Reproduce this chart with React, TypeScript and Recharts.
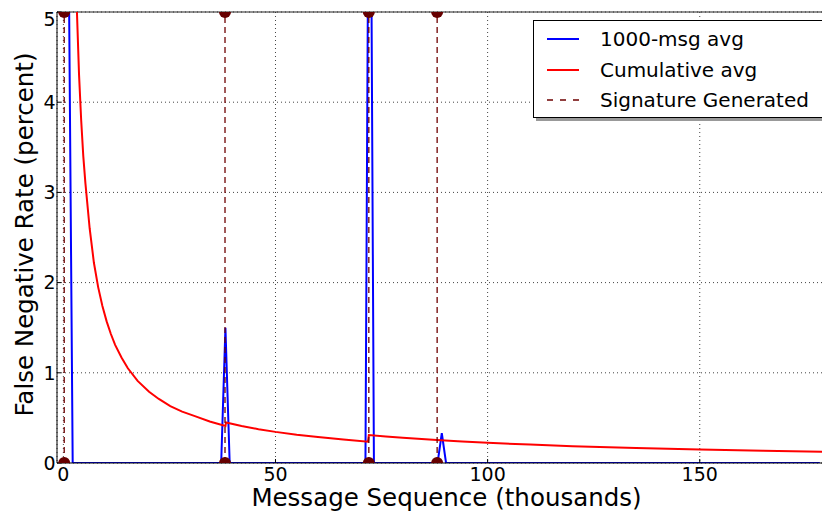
import { LineChart, Line, XAxis, YAxis, CartesianGrid, ReferenceLine } from 'recharts';

// 1000-msg window average (percent), x in thousands of messages
const blueX = [0.2, 1.2, 2.2, 37.2, 38.2, 39.2, 71.2, 72.2, 73.2, 88.2, 89.2, 90.2, 178.3];
const blueY = [14, 6, 0, 0, 1.5, 0, 0, 9, 0, 0, 0.33, 0, 0];

// cumulative average (percent)
const redX = [
  1.2, 2.2, 2.7, 3.2, 3.7, 4.2, 4.7, 5.2, 6.2, 7.2, 8.2, 9.2, 10.2, 11.2, 12.2, 13.7, 15.2, 17.5, 20.2, 22.5, 25.2,
  28, 31, 34.5, 38.2, 38.35, 42, 46, 50, 55, 60, 66, 71.8, 72.0, 76, 80, 88, 94, 100, 110, 120, 135, 150, 165, 179.3,
];
const redY = [
  13.3, 7.3, 5.9, 5.0, 4.3, 3.8, 3.4, 3.1, 2.6, 2.22, 1.95, 1.74, 1.57, 1.43, 1.31, 1.17, 1.05, 0.91, 0.79, 0.71, 0.63,
  0.57, 0.52, 0.46, 0.41, 0.45, 0.41, 0.375, 0.345, 0.313, 0.287, 0.26, 0.236, 0.31, 0.294, 0.279, 0.254, 0.238, 0.224,
  0.204, 0.187, 0.166, 0.15, 0.137, 0.125,
];

// points where a signature was generated
const sigX = [0.2, 38.1, 72.0, 88.1];

const xTicks = [0, 50, 100, 150];
const yTicks = [0, 1, 2, 3, 4, 5];

const legendItems = [
  { label: '1000-msg avg', color: '#0000ff', dash: undefined },
  { label: 'Cumulative avg', color: '#ff0000', dash: undefined },
  { label: 'Signature Generated', color: '#6e0000', dash: '6 7' },
];

const blueData = blueX.map((x, i) => ({ x, v: blueY[i] }));
const redData = redX.map((x, i) => ({ x, v: redY[i] }));
const sigData = sigX.flatMap((x) => [
  { x, v: 0 },
  { x, v: 5 },
  { x, v: null },
]);

function LegendBox() {
  return (
    <div
      style={{
        position: 'absolute',
        left: 525,
        top: 12,
        width: 290,
        height: 96,
        border: '1px solid #000',
        background: '#fff',
        boxShadow: '3px 3px 0 #999',
        fontSize: 20,
        color: '#000',
      }}
    >
      {legendItems.map((it, i) => (
        <div key={it.label} style={{ position: 'absolute', left: 13, top: 5 + i * 30.5, height: 26, display: 'flex', alignItems: 'center', whiteSpace: 'nowrap' }}>
          <svg width={32} height={4} style={{ marginRight: 21 }}>
            <line x1={0} y1={2} x2={32} y2={2} stroke={it.color} strokeWidth={it.dash ? 1.3 : 2} strokeDasharray={it.dash} />
          </svg>
          <span>{it.label}</span>
        </div>
      ))}
    </div>
  );
}

export default function App() {
  return (
    <div style={{ fontFamily: '"DejaVu Sans", sans-serif', position: 'relative', width: 822, height: 508 }}>
      <LineChart width={822} height={508} margin={{ top: 4, right: 0, bottom: 0, left: 0 }}>
        <CartesianGrid stroke="#444" strokeDasharray="1 3" />
        <XAxis
          type="number"
          dataKey="x"
          domain={[-1.5, 180.7]}
          allowDataOverflow
          ticks={xTicks}
          height={53}
          tickSize={-4}
          tickMargin={9}
          tick={{ fill: '#000', fontSize: 19 }}
          stroke="#000"
          label={{
            content: () => (
              <text x={438.5} y={497.5} textAnchor="middle" fontSize={24.5} fill="#000">
                Message Sequence (thousands)
              </text>
            ),
          }}
        />
        <YAxis
          type="number"
          domain={[0, 5]}
          allowDataOverflow
          ticks={yTicks}
          width={49}
          tickSize={-4}
          tickMargin={5.5}
          tick={{ fill: '#000', fontSize: 19 }}
          stroke="#000"
          label={{
            content: () => (
              <text x={25} y={226.5} transform="rotate(-90 25 226.5)" textAnchor="middle" fontSize={24.5} fill="#000">
                False Negative Rate (percent)
              </text>
            ),
          }}
        />
        <ReferenceLine y={5} stroke="#222" strokeWidth={1} />
        <Line data={blueData} dataKey="v" type="linear" stroke="#0000ff" strokeWidth={2} dot={false} isAnimationActive={false} />
        <Line data={redData} dataKey="v" type="linear" stroke="#ff0000" strokeWidth={2} dot={false} isAnimationActive={false} />
        <Line
          data={sigData}
          dataKey="v"
          type="linear"
          stroke="#6e0000"
          strokeWidth={1.3}
          strokeDasharray="6 4"
          dot={{ r: 6, fill: '#660000', stroke: '#660000', strokeWidth: 0 }}
          connectNulls={false}
          isAnimationActive={false}
        />
      </LineChart>
      <LegendBox />
    </div>
  );
}
